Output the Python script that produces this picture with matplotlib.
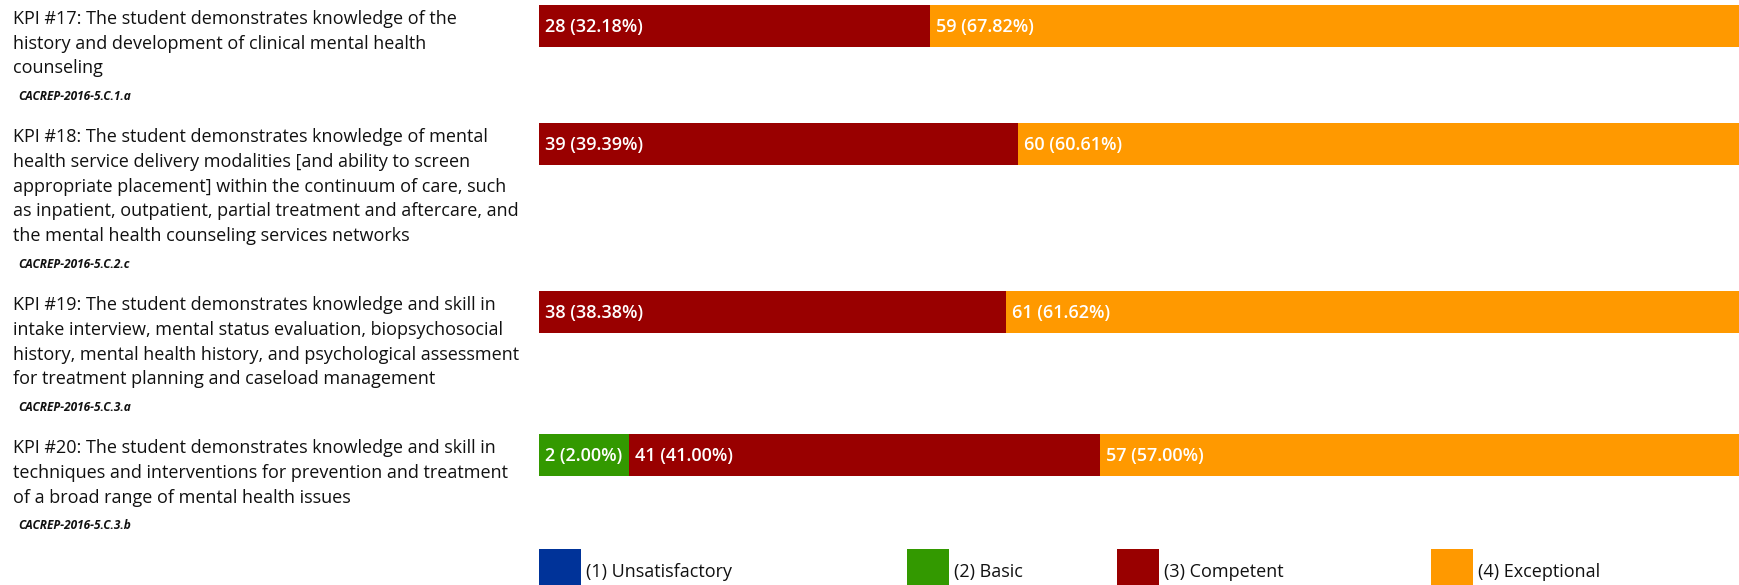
import matplotlib
matplotlib.use('Agg')
import matplotlib.pyplot as plt
from matplotlib.patches import Rectangle

# ---- data ----
kpi_labels = [
    "KPI #17: The student demonstrates knowledge of the\n"
    "history and development of clinical mental health\n"
    "counseling",
    "KPI #18: The student demonstrates knowledge of mental\n"
    "health service delivery modalities [and ability to screen\n"
    "appropriate placement] within the continuum of care, such\n"
    "as inpatient, outpatient, partial treatment and aftercare, and\n"
    "the mental health counseling services networks",
    "KPI #19: The student demonstrates knowledge and skill in\n"
    "intake interview, mental status evaluation, biopsychosocial\n"
    "history, mental health history, and psychological assessment\n"
    "for treatment planning and caseload management",
    "KPI #20: The student demonstrates knowledge and skill in\n"
    "techniques and interventions for prevention and treatment\n"
    "of a broad range of mental health issues",
]
kpi_codes = ["CACREP-2016-5.C.1.a", "CACREP-2016-5.C.2.c",
             "CACREP-2016-5.C.3.a", "CACREP-2016-5.C.3.b"]

levels = ["(1) Unsatisfactory", "(2) Basic", "(3) Competent", "(4) Exceptional"]
unsatisfactory = [0, 0, 0, 0]
basic = [0, 0, 0, 2]
competent = [28, 39, 38, 41]
exceptional = [59, 60, 61, 57]

colors = ["#003399", "#339900", "#990000", "#FF9900"]
text_color = "#111111"

W, H = 1740, 585
fig = plt.figure(figsize=(W / 100, H / 100), dpi=100)

# overlay axes in pixel units for text and legend
tx = fig.add_axes([0, 0, 1, 1])
tx.set_xlim(0, W)
tx.set_ylim(H, 0)
tx.axis('off')

# bar axes (right end runs past the figure edge, like the original)
bar_left, bar_right = 539, 1755
bx = fig.add_axes([bar_left / W, 0, (bar_right - bar_left) / W, 1])
bx.set_xlim(0, 1)
bx.set_ylim(H, 0)
bx.axis('off')

line_h = 24.7
bar_h = 42
min_share = 0.074  # narrow segments get room for their label

top = 5
series = [unsatisfactory, basic, competent, exceptional]
for i, label in enumerate(kpi_labels):
    counts = [s[i] for s in series]
    total = sum(counts)
    shares = [c / total for c in counts]
    small = [sh for sh in shares if 0 < sh < min_share]
    rest = sum(sh for sh in shares if sh >= min_share)
    scale = (1 - min_share * len(small)) / rest
    disp = [0 if sh == 0 else (min_share if sh < min_share else sh * scale)
            for sh in shares]

    yc = top + bar_h / 2
    left = 0
    for c, sh, d, col in zip(counts, shares, disp, colors):
        if c == 0:
            continue
        bx.barh(yc, d, left=left, height=bar_h, color=col,
                edgecolor='none')
        bx.text(left + 6 / (bar_right - bar_left), yc + 1,
                f"{c} ({sh * 100:.2f}%)", color='white', fontsize=13,
                family='Open Sans', weight='semibold', va='center', ha='left')
        left += d

    lines = label.split("\n")
    for j, ln in enumerate(lines):
        tx.text(13, top + 14 + line_h * j, ln, fontsize=13,
                family='Open Sans', color=text_color, va='center', ha='left')
    code_y = top + 14 + line_h * (len(lines) - 1) + 28
    tx.text(18, code_y, kpi_codes[i], fontsize=8.6, family='Open Sans',
            style='italic', weight='bold', color=text_color,
            va='center', ha='left')
    top = code_y + 27

# legend
legend_x = [539, 907, 1117, 1431]
for name, col, lx in zip(levels, colors, legend_x):
    tx.add_patch(Rectangle((lx, 549), 42, 42, color=col, lw=0))
    tx.text(lx + 47, 572, name, fontsize=13, family='Open Sans',
            color=text_color, va='center', ha='left')

fig.savefig('out.png', dpi=100)
plt.close()
